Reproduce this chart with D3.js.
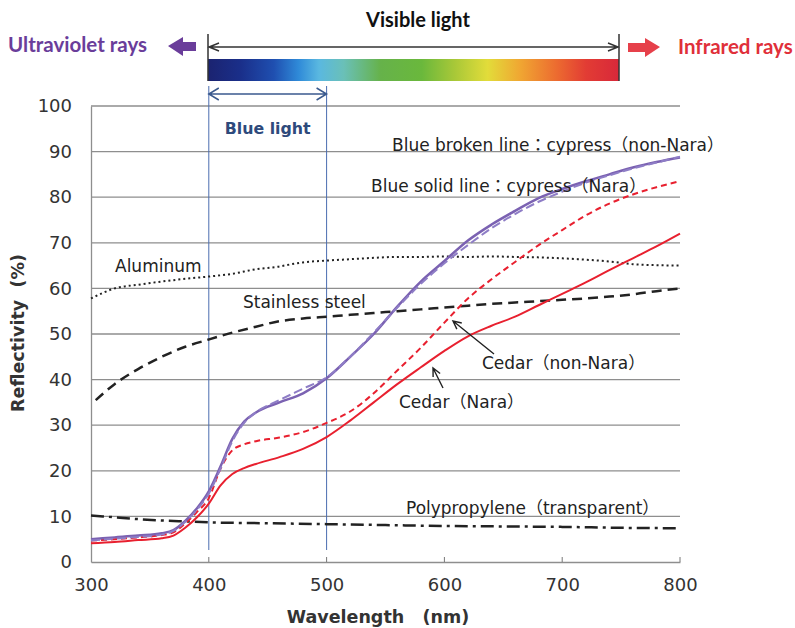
<!DOCTYPE html>
<html><head><meta charset="utf-8">
<script src="https://cdn.jsdelivr.net/npm/d3@7"></script>
<style>body{margin:0;background:#fff}svg{display:block}</style>
</head><body><svg id="c" width="795" height="628"></svg>
<script>
// ---- data ----
const woodWl = [300,320,340,360,370,380,390,400,410,420,430,440,460,480,500,520,540,560,580,600,620,640,660,680,700,720,740,760,780,800];
const cypressNara    = [5.0,5.4,5.8,6.3,7.0,9.0,11.8,15.5,21.0,27.0,30.8,32.8,35.0,37.0,40.3,45.0,50.0,56.0,61.5,66.0,70.5,74.0,77.0,79.8,81.8,83.5,85.0,86.5,87.7,88.7];
const cypressNonNara = [4.7,5.1,5.5,6.0,6.8,8.8,11.5,15.0,20.5,26.5,30.5,32.8,35.5,38.0,40.5,45.0,50.3,55.8,61.0,65.5,69.5,73.2,76.3,79.0,81.2,83.2,84.8,86.3,87.6,88.9];
const cedarNonNara   = [4.7,5.0,5.4,5.9,6.5,8.5,11.0,14.0,20.5,24.5,25.8,26.5,27.3,28.5,30.5,33.0,37.0,42.0,47.0,52.5,57.8,62.0,65.8,69.5,72.8,76.0,78.6,80.6,82.2,83.5];
const cedarNara      = [4.1,4.4,4.8,5.2,5.8,7.5,9.8,12.8,16.8,19.3,20.6,21.5,23.0,24.8,27.4,31.0,35.0,39.0,42.7,46.3,49.5,51.8,53.8,56.3,58.8,61.3,64.0,66.6,69.2,72.0];
const alWl = [300,310,320,340,360,380,400,420,440,460,470,480,500,520,540,560,580,600,620,640,660,680,700,720,740,760,780,800];
const aluminum = [57.8,59.0,60.0,60.8,61.5,62.1,62.6,63.2,64.2,64.8,65.3,65.7,66.1,66.4,66.7,66.9,66.9,67.0,66.9,67.0,66.9,66.8,66.6,66.3,65.9,65.3,65.1,65.0];
const ssWl = [304,320,340,360,380,400,420,440,460,480,500,520,540,560,580,600,620,640,660,680,700,720,740,760,780,800];
const stainless = [35.5,39.0,42.3,45.0,47.2,48.8,50.3,51.6,52.8,53.4,53.8,54.2,54.6,55.0,55.4,55.8,56.2,56.6,56.9,57.2,57.5,57.8,58.2,58.7,59.4,60.0];
const ppWl = [300,320,340,360,380,400,450,500,550,600,650,700,750,800];
const polypropylene = [10.2,9.8,9.4,9.1,8.9,8.7,8.5,8.3,8.1,7.9,7.8,7.7,7.5,7.4];
const xTicks = [300,400,500,600,700,800];
const yTicks = [0,10,20,30,40,50,60,70,80,90,100];
const blueBand = [400,500];

const svg = d3.select("#c");
const x = d3.scaleLinear().domain([300,800]).range([91,680]);
const y = d3.scaleLinear().domain([0,100]).range([562,106]);
const FONT = "'DejaVu Sans','Noto Sans CJK JP',sans-serif";

// defs
const defs = svg.append("defs");
const grad = defs.append("linearGradient").attr("id","spec");
[[0,"#1b2370"],[0.08,"#1a2f8a"],[0.16,"#1f4fb0"],[0.22,"#2f8ad8"],[0.27,"#5ab8e0"],[0.33,"#6ac0b8"],[0.42,"#66b24a"],[0.52,"#6ab83c"],[0.6,"#a8c838"],[0.68,"#e2dc3a"],[0.76,"#f0a632"],[0.85,"#ec6a30"],[0.92,"#e23c34"],[1,"#d8283a"]]
  .forEach(s=>grad.append("stop").attr("offset",s[0]).attr("stop-color",s[1]));

// gridlines
svg.append("g").selectAll("line").data(yTicks.filter(d=>d>0)).join("line")
  .attr("x1",x(300)).attr("x2",x(800)).attr("y1",d=>y(d)).attr("y2",d=>y(d))
  .attr("stroke","#8e8e8e").attr("stroke-width",1.3);

// axes
const gx = svg.append("g").attr("transform",`translate(0,${y(0)})`)
  .call(d3.axisBottom(x).tickValues(xTicks).tickSize(0).tickPadding(16));
gx.select(".domain").attr("stroke","#8e8e8e").attr("stroke-width",1.3);
gx.selectAll("text").attr("font-family",FONT).attr("font-size",18).attr("fill","#333");
svg.append("g").selectAll("line").data(xTicks.slice(1)).join("line")
  .attr("x1",d=>x(d)).attr("x2",d=>x(d)).attr("y1",y(0)).attr("y2",y(0)-5)
  .attr("stroke","#777").attr("stroke-width",1);
const gy = svg.append("g").attr("transform",`translate(${x(300)},0)`)
  .call(d3.axisLeft(y).tickValues(yTicks).tickSize(0).tickPadding(19));
gy.select(".domain").attr("stroke","#8e8e8e").attr("stroke-width",1.3);
gy.selectAll("text").attr("font-family",FONT).attr("font-size",18).attr("fill","#333");

// axis titles
svg.append("text").attr("x",378).attr("y",623).attr("text-anchor","middle")
  .attr("font-family",FONT).attr("font-weight","bold").attr("font-size",17.5).attr("fill","#333")
  .style("white-space","pre").text("Wavelength   (nm)");
svg.append("text").attr("transform","translate(24,333) rotate(-90)").attr("text-anchor","middle")
  .attr("font-family",FONT).attr("font-weight","bold").attr("font-size",17.5).attr("fill","#333")
  .style("white-space","pre").text("Reflectivity  (%)");

// blue light band
svg.append("g").selectAll("line").data(blueBand).join("line")
  .attr("x1",d=>x(d)).attr("x2",d=>x(d)).attr("y1",86).attr("y2",550)
  .attr("stroke","#4a6db0").attr("stroke-width",1);
const bx0 = x(blueBand[0]), bx1 = x(blueBand[1]), by = 94;
svg.append("path").attr("d",`M${bx0},${by}H${bx1}M${bx0+10},${by-6}L${bx0},${by}L${bx0+10},${by+6}M${bx1-10},${by-6}L${bx1},${by}L${bx1-10},${by+6}`)
  .attr("fill","none").attr("stroke","#3b5a8e").attr("stroke-width",1.5);
svg.append("text").attr("x",(bx0+bx1)/2).attr("y",134).attr("text-anchor","middle")
  .attr("font-family",FONT).attr("font-weight","bold").attr("font-size",15.8).attr("fill","#2e4a7c").text("Blue light");

// top spectrum banner
const vx0 = 208, vx1 = 619;
svg.append("rect").attr("x",vx0).attr("y",59).attr("width",vx1-vx0).attr("height",22).attr("fill","url(#spec)");
svg.append("path").attr("d",`M${vx0},34V81M${vx1},34V81`).attr("stroke","#333").attr("stroke-width",1.5);
svg.append("path").attr("d",`M${vx0},47H${vx1}M${vx0+11},43L${vx0+1},47L${vx0+11},51M${vx1-11},43L${vx1-1},47L${vx1-11},51`)
  .attr("stroke","#333").attr("stroke-width",1.5).attr("fill","none");
svg.append("text").attr("x",418).attr("y",27).attr("text-anchor","middle")
  .attr("font-family","Lato,sans-serif").attr("font-weight","bold").attr("font-size",20).attr("fill","#111").text("Visible light");
svg.append("text").attr("x",8).attr("y",52)
  .attr("font-family","Lato,sans-serif").attr("font-weight","bold").attr("font-size",20.5).attr("fill","#6a3d9a").text("Ultraviolet rays");
svg.append("text").attr("x",678).attr("y",54)
  .attr("font-family","Lato,sans-serif").attr("font-weight","bold").attr("font-size",20.5).attr("fill","#e0303a").text("Infrared rays");
// block arrows
svg.append("path").attr("d","M168,46L183,37V42H196V51H183V56Z").attr("fill","#6a3d9a");
svg.append("path").attr("d","M660,47L645,38V43H628V52H645V57Z").attr("fill","#e6404a");

// series
function draw(wl, vals, color, width, dash){
  const pts = wl.map((w,i)=>[w, vals[i]]);
  svg.append("path").datum(pts)
    .attr("d", d3.line().x(d=>x(d[0])).y(d=>y(d[1])).curve(d3.curveMonotoneX))
    .attr("fill","none").attr("stroke",color).attr("stroke-width",width)
    .attr("stroke-dasharray",dash||null);
}
draw(ppWl, polypropylene, "#222", 2.5, "13,5,3,5");
draw(alWl, aluminum, "#222", 2, "2,3");
draw(ssWl, stainless, "#222", 2.5, "10,6");
draw(woodWl, cedarNara, "#e8202f", 2, null);
draw(woodWl, cedarNonNara, "#e8202f", 2, "6,4");
draw(woodWl, cypressNara, "#7b62b2", 2.5, null);
draw(woodWl, cypressNonNara, "#8e7dc6", 2, "9,4");

// labels
function label(tx, ty, t){
  svg.append("text").attr("x",tx).attr("y",ty).attr("font-family",FONT).attr("font-size",17).attr("fill","#222").text(t);
}
label(115, 272, "Aluminum");
label(243, 308, "Stainless steel");
label(392, 151, "Blue broken line：cypress（non-Nara）");
label(371, 192, "Blue solid line：cypress（Nara）");
label(482, 369, "Cedar（non-Nara）");
label(399, 408, "Cedar（Nara）");
label(406, 514, "Polypropylene（transparent）");

// annotation arrows
function arrow(x1,y1,x2,y2){
  const a = Math.atan2(y2-y1,x2-x1), L=9, s=0.45;
  svg.append("path").attr("d",`M${x1},${y1}L${x2},${y2}M${x2-L*Math.cos(a-s)},${y2-L*Math.sin(a-s)}L${x2},${y2}L${x2-L*Math.cos(a+s)},${y2-L*Math.sin(a+s)}`)
    .attr("fill","none").attr("stroke","#222").attr("stroke-width",1.4);
}
arrow(494,354,453,321);
arrow(443,388,433,368);
</script></body></html>
